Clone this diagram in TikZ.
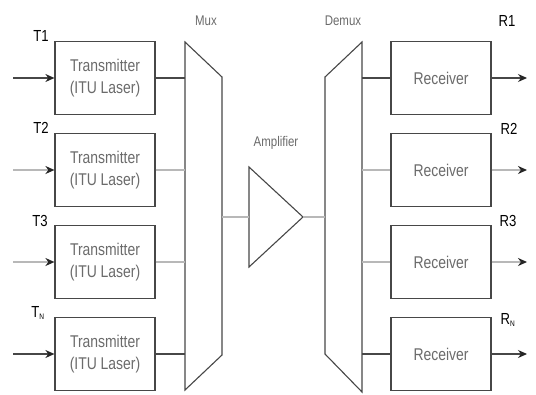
\documentclass[tikz,border=0pt]{standalone}
\usepackage{fontspec}
\setmainfont{Liberation Sans}[FakeStretch=0.82]
\usetikzlibrary{arrows.meta}
\definecolor{linedark}{gray}{0.28}
\definecolor{linelight}{gray}{0.72}
\definecolor{textgray}{gray}{0.42}
\tikzset{
  unitbox/.style={draw=linedark, line width=1.2pt, minimum width=100pt, minimum height=73pt,
    align=center, text=textgray, font=\fontsize{17}{22}\selectfont, inner sep=0pt},
  darkline/.style={draw=linedark, line width=1.2pt},
  lightline/.style={draw=linelight, line width=2.2pt},
  tip/.style={-{Stealth[length=9pt,width=8pt,color=black!85]}},
  chanlabel/.style={text=black, font=\fontsize{16}{18}\selectfont, inner sep=0pt},
  blocklabel/.style={text=textgray, font=\fontsize{14}{17}\selectfont, inner sep=0pt},
  mod/.style={draw=linedark, line width=1.1pt, line join=miter}
}
\begin{document}
\begin{tikzpicture}[x=1pt,y=-1pt]
\useasboundingbox[fill=white] (0,0) rectangle (536,394);

% transmitters
\node[unitbox] (t1) at (105,78)  {Transmitter\\(ITU Laser)};
\node[unitbox] (t2) at (105,170) {Transmitter\\(ITU Laser)};
\node[unitbox] (t3) at (105,262) {Transmitter\\(ITU Laser)};
\node[unitbox] (t4) at (105,354) {Transmitter\\(ITU Laser)};

% receivers
\node[unitbox] (r1) at (441,78)  {Receiver};
\node[unitbox] (r2) at (441,170) {Receiver};
\node[unitbox] (r3) at (441,262) {Receiver};
\node[unitbox] (r4) at (441,354) {Receiver};

% channel labels
\node[chanlabel] (lt1) at (41,36)  {T1};
\node[chanlabel] (lt2) at (41,128) {T2};
\node[chanlabel] (lt3) at (40,221) {T3};
\node[chanlabel] (lt4) at (38,313) {T\textsubscript{\fontsize{8}{9}\selectfont N}};
\node[chanlabel] (lr1) at (507,21)  {R1};
\node[chanlabel] (lr2) at (509,129) {R2};
\node[chanlabel] (lr3) at (508,221) {R3};
\node[chanlabel] (lr4) at (508,320) {R\textsubscript{\fontsize{8}{9}\selectfont N}};

% block labels
\node[blocklabel] (lmux) at (206,21) {Mux};
\node[blocklabel] (ldemux) at (343,21) {Demux};
\node[blocklabel] (lamp) at (276,143) {Amplifier};

% multiplexer, amplifier, demultiplexer outlines
\draw[mod] (185,42) -- (222,77) -- (222,355) -- (185,390) -- cycle;
\draw[mod] (249,167) -- (303,217) -- (249,267) -- cycle;
\draw[mod] (362,42) -- (325,77) -- (325,354) -- (362,392) -- cycle;

% port coordinates
\coordinate (m1) at (185,78);
\coordinate (m2) at (185,170);
\coordinate (m3) at (185,262);
\coordinate (m4) at (185,354);
\coordinate (mout) at (222,217);
\coordinate (ain) at (249,217);
\coordinate (aout) at (303,217);
\coordinate (din) at (325,217);
\coordinate (d1) at (362,78);
\coordinate (d2) at (362,170);
\coordinate (d3) at (362,262);
\coordinate (d4) at (362,354);
\coordinate (i1) at (13,78);
\coordinate (i2) at (13,170);
\coordinate (i3) at (13,262);
\coordinate (i4) at (13,354);
\coordinate (o1) at (527,78);
\coordinate (o2) at (527,170);
\coordinate (o3) at (527,262);
\coordinate (o4) at (527,354);

% inputs
\draw[darkline,tip] (i1) -- (t1.west);
\draw[lightline,tip] (i2) -- (t2.west);
\draw[lightline,tip] (i3) -- (t3.west);
\draw[darkline,tip] (i4) -- (t4.west);

% transmitters to mux
\draw[darkline] (t1.east) -- (m1);
\draw[lightline] (t2.east) -- (m2);
\draw[lightline] (t3.east) -- (m3);
\draw[darkline] (t4.east) -- (m4);

% trunk through the amplifier
\draw[lightline] (mout) -- (ain);
\draw[lightline] (aout) -- (din);

% demux to receivers
\draw[darkline] (d1) -- (r1.west);
\draw[lightline] (d2) -- (r2.west);
\draw[lightline] (d3) -- (r3.west);
\draw[darkline] (d4) -- (r4.west);

% outputs
\draw[darkline,tip] (r1.east) -- (o1);
\draw[lightline,tip] (r2.east) -- (o2);
\draw[lightline,tip] (r3.east) -- (o3);
\draw[darkline,tip] (r4.east) -- (o4);
\end{tikzpicture}
\end{document}
